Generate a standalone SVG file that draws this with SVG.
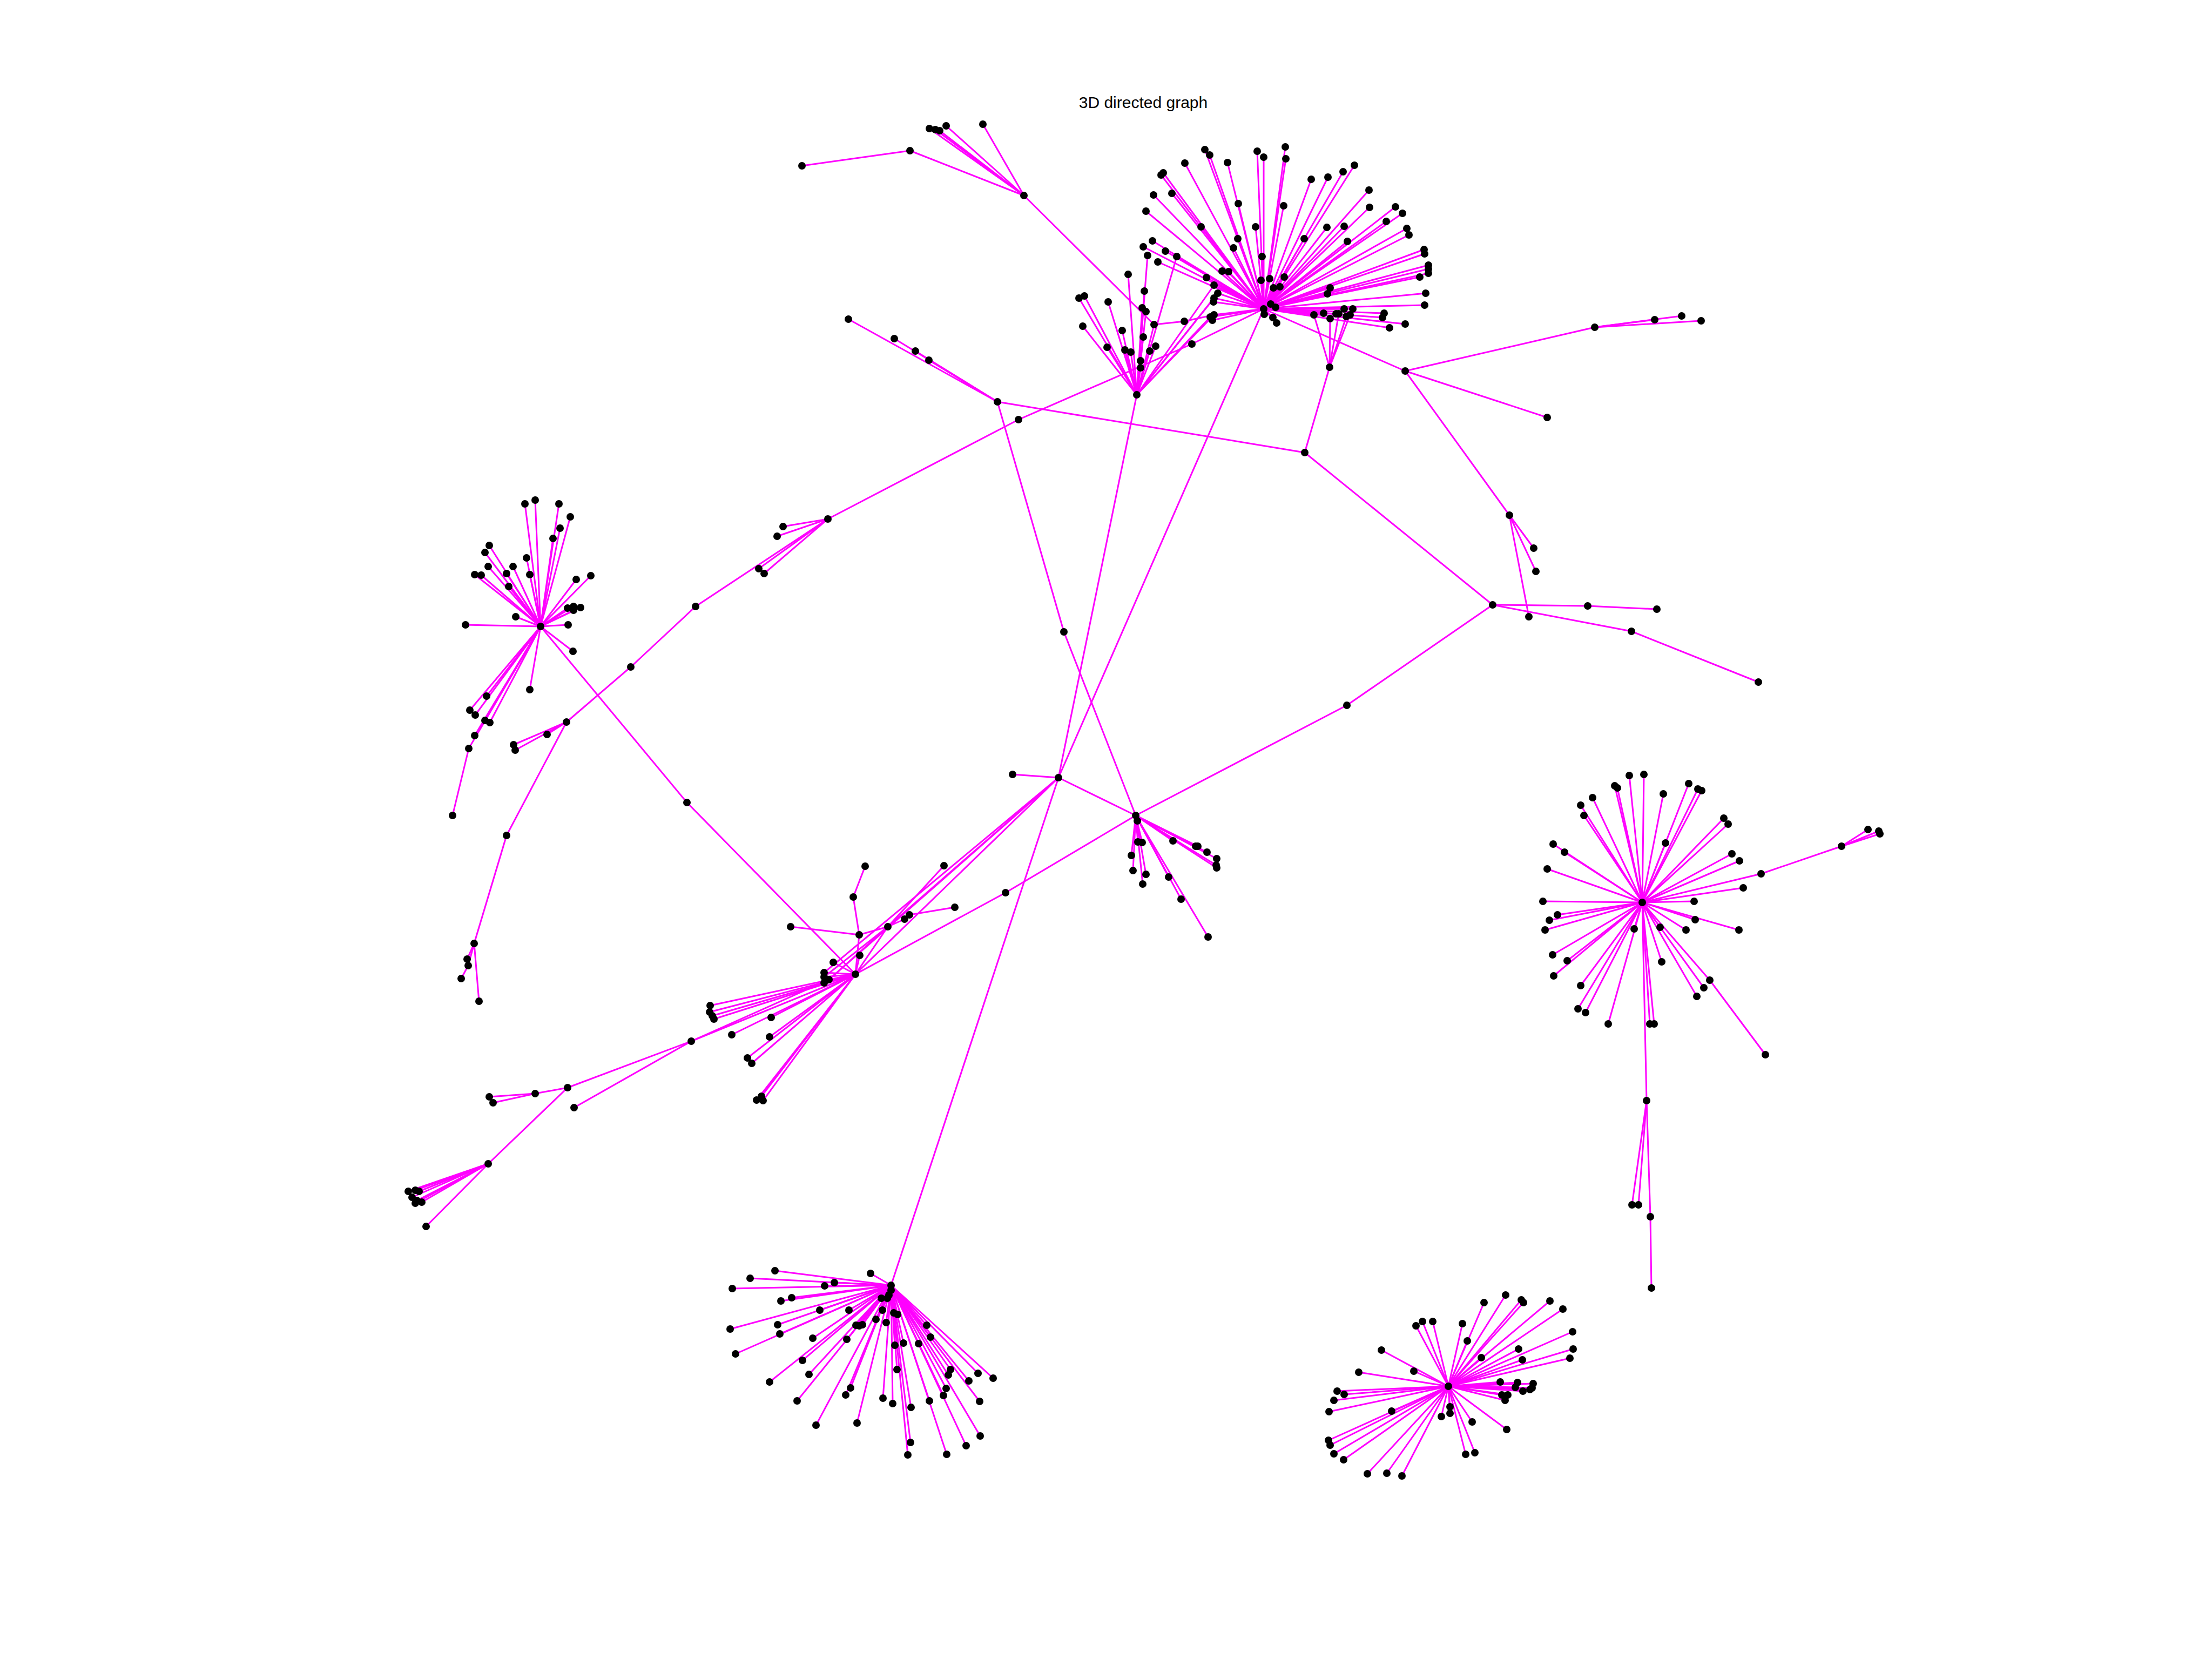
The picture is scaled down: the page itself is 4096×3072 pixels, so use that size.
<svg xmlns="http://www.w3.org/2000/svg" width="4096" height="3072" viewBox="0 0 4096 3072">
<style>
.e line{stroke:#ff00ff;stroke-width:3;stroke-linecap:round}
.n circle{fill:#000}
.t{font-family:"Liberation Sans",Arial,sans-serif;font-size:30px;fill:#000}
</style>
<rect width="4096" height="3072" fill="#fff"/>
<text class="t" x="2117" y="200" text-anchor="middle">3D directed graph</text>
<g id="edges" class="e">
<line x1="2340" y1="572" x2="2231" y2="277"/><line x1="2340" y1="572" x2="2240" y2="287"/><line x1="2340" y1="572" x2="2194" y2="302"/><line x1="2340" y1="572" x2="2273" y2="301"/><line x1="2340" y1="572" x2="2328" y2="280"/><line x1="2340" y1="572" x2="2340" y2="291"/><line x1="2340" y1="572" x2="2380" y2="272"/><line x1="2340" y1="572" x2="2381" y2="294"/><line x1="2340" y1="572" x2="2150" y2="324"/><line x1="2340" y1="572" x2="2154" y2="320"/>
<line x1="2340" y1="572" x2="2136" y2="361"/><line x1="2340" y1="572" x2="2170" y2="358"/><line x1="2340" y1="572" x2="2122" y2="391"/><line x1="2340" y1="572" x2="2224" y2="420"/><line x1="2340" y1="572" x2="2293" y2="377"/><line x1="2340" y1="572" x2="2377" y2="381"/><line x1="2340" y1="572" x2="2428" y2="332"/><line x1="2340" y1="572" x2="2459" y2="328"/><line x1="2340" y1="572" x2="2487" y2="318"/><line x1="2340" y1="572" x2="2508" y2="306"/>
<line x1="2340" y1="572" x2="2535" y2="352"/><line x1="2340" y1="572" x2="2536" y2="384"/><line x1="2340" y1="572" x2="2584" y2="383"/><line x1="2340" y1="572" x2="2597" y2="395"/><line x1="2340" y1="572" x2="2567" y2="410"/><line x1="2340" y1="572" x2="2605" y2="423"/><line x1="2340" y1="572" x2="2609" y2="435"/><line x1="2340" y1="572" x2="2457" y2="421"/><line x1="2340" y1="572" x2="2489" y2="419"/><line x1="2340" y1="572" x2="2415" y2="442"/>
<line x1="2340" y1="572" x2="2495" y2="447"/><line x1="2340" y1="572" x2="2325" y2="420"/><line x1="2340" y1="572" x2="2292" y2="442"/><line x1="2340" y1="572" x2="2284" y2="459"/><line x1="2340" y1="572" x2="2337" y2="475"/><line x1="2340" y1="572" x2="2637" y2="462"/><line x1="2340" y1="572" x2="2638" y2="470"/><line x1="2340" y1="572" x2="2645" y2="491"/><line x1="2340" y1="572" x2="2645" y2="498"/><line x1="2340" y1="572" x2="2645" y2="506"/>
<line x1="2340" y1="572" x2="2629" y2="513"/><line x1="2340" y1="572" x2="2640" y2="543"/><line x1="2340" y1="572" x2="2638" y2="565"/><line x1="2340" y1="572" x2="2463" y2="533"/><line x1="2340" y1="572" x2="2458" y2="544"/><line x1="2340" y1="572" x2="2335" y2="519"/><line x1="2340" y1="572" x2="2351" y2="516"/><line x1="2340" y1="572" x2="2378" y2="513"/><line x1="2340" y1="572" x2="2358" y2="533"/><line x1="2340" y1="572" x2="2370" y2="531"/>
<line x1="2340" y1="572" x2="2234" y2="514"/><line x1="2340" y1="572" x2="2263" y2="502"/><line x1="2340" y1="572" x2="2275" y2="503"/><line x1="2340" y1="572" x2="2248" y2="528"/><line x1="2340" y1="572" x2="2255" y2="543"/><line x1="2340" y1="572" x2="2248" y2="552"/><line x1="2340" y1="572" x2="2247" y2="559"/><line x1="2340" y1="572" x2="2241" y2="587"/><line x1="2340" y1="572" x2="2248" y2="583"/><line x1="2340" y1="572" x2="2245" y2="593"/>
<line x1="2340" y1="572" x2="2357" y2="588"/><line x1="2340" y1="572" x2="2364" y2="598"/><line x1="2340" y1="572" x2="2353" y2="563"/><line x1="2340" y1="572" x2="2362" y2="569"/><line x1="2340" y1="572" x2="2341" y2="582"/><line x1="2340" y1="572" x2="2433" y2="583"/><line x1="2340" y1="572" x2="2451" y2="580"/><line x1="2340" y1="572" x2="2474" y2="581"/><line x1="2340" y1="572" x2="2489" y2="572"/><line x1="2340" y1="572" x2="2505" y2="572"/>
<line x1="2340" y1="572" x2="2563" y2="580"/><line x1="2340" y1="572" x2="2560" y2="588"/><line x1="2340" y1="572" x2="2602" y2="600"/><line x1="2340" y1="572" x2="2573" y2="607"/><line x1="2340" y1="572" x2="2134" y2="446"/><line x1="2340" y1="572" x2="2117" y2="457"/><line x1="2340" y1="572" x2="2158" y2="465"/><line x1="2340" y1="572" x2="2179" y2="475"/><line x1="2340" y1="572" x2="2144" y2="485"/>
<line x1="2340" y1="572" x2="2602" y2="687"/><line x1="2340" y1="572" x2="2207" y2="637"/><line x1="2340" y1="572" x2="1960" y2="1440"/>
<line x1="2462" y1="680" x2="2433" y2="583"/><line x1="2462" y1="680" x2="2463" y2="590"/><line x1="2462" y1="680" x2="2479" y2="581"/><line x1="2462" y1="680" x2="2493" y2="586"/><line x1="2462" y1="680" x2="2500" y2="583"/><line x1="2462" y1="680" x2="2416" y2="838"/>
<line x1="2105" y1="731" x2="2005" y2="604"/><line x1="2105" y1="731" x2="2050" y2="643"/><line x1="2105" y1="731" x2="2078" y2="612"/><line x1="2105" y1="731" x2="2083" y2="648"/><line x1="2105" y1="731" x2="2094" y2="652"/><line x1="2105" y1="731" x2="2112" y2="668"/><line x1="2105" y1="731" x2="2112" y2="681"/><line x1="2105" y1="731" x2="2117" y2="624"/><line x1="2105" y1="731" x2="2129" y2="650"/><line x1="2105" y1="731" x2="2140" y2="641"/>
<line x1="2105" y1="731" x2="2115" y2="570"/><line x1="2105" y1="731" x2="2122" y2="577"/><line x1="2105" y1="731" x2="2052" y2="559"/><line x1="2105" y1="731" x2="1998" y2="552"/><line x1="2105" y1="731" x2="2008" y2="548"/><line x1="2105" y1="731" x2="2089" y2="508"/><line x1="2105" y1="731" x2="2119" y2="539"/><line x1="2105" y1="731" x2="2125" y2="473"/><line x1="2105" y1="731" x2="2179" y2="475"/><line x1="2105" y1="731" x2="2241" y2="587"/>
<line x1="2105" y1="731" x2="2248" y2="583"/><line x1="2105" y1="731" x2="2248" y2="528"/><line x1="2105" y1="731" x2="2255" y2="543"/><line x1="2105" y1="731" x2="2248" y2="552"/><line x1="2105" y1="731" x2="2137" y2="601"/><line x1="2105" y1="731" x2="1960" y2="1440"/>
<line x1="1896" y1="362" x2="1685" y2="279"/><line x1="1685" y1="279" x2="1485" y2="307"/><line x1="1896" y1="362" x2="1721" y2="238"/><line x1="1896" y1="362" x2="1732" y2="240"/><line x1="1896" y1="362" x2="1740" y2="242"/><line x1="1896" y1="362" x2="1752" y2="233"/><line x1="1896" y1="362" x2="1820" y2="230"/><line x1="1896" y1="362" x2="2137" y2="601"/><line x1="2137" y1="601" x2="2193" y2="595"/><line x1="2193" y1="595" x2="2248" y2="583"/>
<line x1="1847" y1="744" x2="1571" y2="591"/><line x1="1847" y1="744" x2="1656" y2="627"/><line x1="1847" y1="744" x2="1695" y2="650"/><line x1="1847" y1="744" x2="1720" y2="667"/><line x1="1847" y1="744" x2="2416" y2="838"/><line x1="1847" y1="744" x2="1970" y2="1170"/><line x1="1970" y1="1170" x2="2103" y2="1510"/>
<line x1="2207" y1="637" x2="1886" y2="777"/><line x1="1886" y1="777" x2="1533" y2="961"/>
<line x1="2416" y1="838" x2="2764" y2="1120"/>
<line x1="2602" y1="687" x2="2953" y2="606"/><line x1="2953" y1="606" x2="3064" y2="592"/><line x1="2953" y1="606" x2="3114" y2="585"/><line x1="2953" y1="606" x2="3150" y2="594"/><line x1="2602" y1="687" x2="2865" y2="773"/><line x1="2602" y1="687" x2="2795" y2="954"/>
<line x1="2795" y1="954" x2="2840" y2="1015"/><line x1="2795" y1="954" x2="2844" y2="1058"/><line x1="2795" y1="954" x2="2831" y2="1142"/>
<line x1="2764" y1="1120" x2="2940" y2="1122"/><line x1="2940" y1="1122" x2="3068" y2="1128"/><line x1="2764" y1="1120" x2="3021" y2="1169"/><line x1="3021" y1="1169" x2="3256" y2="1263"/><line x1="2764" y1="1120" x2="2494" y2="1306"/><line x1="2494" y1="1306" x2="2103" y2="1510"/><line x1="2103" y1="1510" x2="1862" y2="1653"/><line x1="1862" y1="1653" x2="1584" y2="1804"/>
<line x1="2103" y1="1510" x2="2106" y2="1520"/><line x1="2103" y1="1510" x2="2107" y2="1559"/><line x1="2103" y1="1510" x2="2115" y2="1560"/><line x1="2103" y1="1510" x2="2095" y2="1584"/><line x1="2103" y1="1510" x2="2098" y2="1612"/><line x1="2103" y1="1510" x2="2122" y2="1619"/><line x1="2103" y1="1510" x2="2116" y2="1637"/><line x1="2103" y1="1510" x2="2172" y2="1557"/><line x1="2103" y1="1510" x2="2214" y2="1567"/><line x1="2103" y1="1510" x2="2218" y2="1567"/>
<line x1="2103" y1="1510" x2="2235" y2="1578"/><line x1="2103" y1="1510" x2="2253" y2="1590"/><line x1="2103" y1="1510" x2="2252" y2="1602"/><line x1="2103" y1="1510" x2="2253" y2="1607"/><line x1="2103" y1="1510" x2="2164" y2="1624"/><line x1="2103" y1="1510" x2="2187" y2="1665"/><line x1="2103" y1="1510" x2="2237" y2="1735"/>
<line x1="1960" y1="1440" x2="2103" y2="1510"/><line x1="1960" y1="1440" x2="1875" y2="1434"/><line x1="1960" y1="1440" x2="1650" y2="2380"/><line x1="1960" y1="1440" x2="1584" y2="1804"/><line x1="1960" y1="1440" x2="1644" y2="1716"/><line x1="1960" y1="1440" x2="1526" y2="1801"/><line x1="1960" y1="1440" x2="1535" y2="1814"/>
<line x1="1584" y1="1804" x2="1592" y2="1769"/><line x1="1584" y1="1804" x2="1543" y2="1782"/><line x1="1584" y1="1804" x2="1526" y2="1801"/><line x1="1584" y1="1804" x2="1526" y2="1809"/><line x1="1584" y1="1804" x2="1535" y2="1814"/><line x1="1584" y1="1804" x2="1526" y2="1820"/><line x1="1584" y1="1804" x2="1315" y2="1862"/><line x1="1584" y1="1804" x2="1314" y2="1874"/><line x1="1584" y1="1804" x2="1319" y2="1881"/><line x1="1584" y1="1804" x2="1322" y2="1887"/>
<line x1="1584" y1="1804" x2="1428" y2="1884"/><line x1="1584" y1="1804" x2="1355" y2="1916"/><line x1="1584" y1="1804" x2="1425" y2="1920"/><line x1="1584" y1="1804" x2="1384" y2="1959"/><line x1="1584" y1="1804" x2="1392" y2="1969"/><line x1="1584" y1="1804" x2="1401" y2="2037"/><line x1="1584" y1="1804" x2="1410" y2="2030"/><line x1="1584" y1="1804" x2="1413" y2="2038"/><line x1="1584" y1="1804" x2="1280" y2="1928"/><line x1="1535" y1="1814" x2="1280" y2="1928"/>
<line x1="1644" y1="1716" x2="1584" y2="1804"/><line x1="1644" y1="1716" x2="1526" y2="1809"/><line x1="1644" y1="1716" x2="1535" y2="1814"/><line x1="1591" y1="1731" x2="1584" y2="1804"/><line x1="1580" y1="1661" x2="1591" y2="1731"/><line x1="1602" y1="1604" x2="1580" y2="1661"/><line x1="1464" y1="1716" x2="1591" y2="1731"/><line x1="1591" y1="1731" x2="1644" y2="1716"/><line x1="1644" y1="1716" x2="1675" y2="1702"/><line x1="1675" y1="1702" x2="1684" y2="1694"/>
<line x1="1684" y1="1694" x2="1768" y2="1680"/><line x1="1644" y1="1716" x2="1748" y2="1603"/>
<line x1="1001" y1="1160" x2="1272" y2="1486"/><line x1="1272" y1="1486" x2="1584" y2="1804"/>
<line x1="1280" y1="1928" x2="1051" y2="2014"/><line x1="1051" y1="2014" x2="991" y2="2025"/><line x1="991" y1="2025" x2="906" y2="2031"/><line x1="991" y1="2025" x2="913" y2="2042"/><line x1="1280" y1="1928" x2="1063" y2="2051"/><line x1="1051" y1="2014" x2="904" y2="2155"/>
<line x1="904" y1="2155" x2="756" y2="2206"/><line x1="904" y1="2155" x2="769" y2="2204"/><line x1="904" y1="2155" x2="776" y2="2206"/><line x1="904" y1="2155" x2="763" y2="2217"/><line x1="904" y1="2155" x2="769" y2="2228"/><line x1="904" y1="2155" x2="781" y2="2226"/><line x1="904" y1="2155" x2="772" y2="2223"/><line x1="904" y1="2155" x2="789" y2="2271"/>
<line x1="1001" y1="1160" x2="972" y2="933"/><line x1="1001" y1="1160" x2="991" y2="926"/><line x1="1001" y1="1160" x2="1035" y2="933"/><line x1="1001" y1="1160" x2="1056" y2="957"/><line x1="1001" y1="1160" x2="1037" y2="978"/><line x1="1001" y1="1160" x2="1024" y2="997"/><line x1="1001" y1="1160" x2="906" y2="1010"/><line x1="1001" y1="1160" x2="898" y2="1023"/><line x1="1001" y1="1160" x2="904" y2="1049"/><line x1="1001" y1="1160" x2="879" y2="1064"/>
<line x1="1001" y1="1160" x2="891" y2="1065"/><line x1="1001" y1="1160" x2="938" y2="1062"/><line x1="1001" y1="1160" x2="950" y2="1049"/><line x1="1001" y1="1160" x2="942" y2="1086"/><line x1="1001" y1="1160" x2="975" y2="1033"/><line x1="1001" y1="1160" x2="981" y2="1064"/><line x1="1001" y1="1160" x2="1067" y2="1073"/><line x1="1001" y1="1160" x2="1094" y2="1066"/><line x1="1001" y1="1160" x2="1051" y2="1126"/><line x1="1001" y1="1160" x2="1062" y2="1123"/>
<line x1="1001" y1="1160" x2="1075" y2="1125"/><line x1="1001" y1="1160" x2="1062" y2="1130"/><line x1="1001" y1="1160" x2="955" y2="1142"/><line x1="1001" y1="1160" x2="862" y2="1157"/><line x1="1001" y1="1160" x2="1052" y2="1157"/><line x1="1001" y1="1160" x2="1061" y2="1206"/><line x1="1001" y1="1160" x2="981" y2="1277"/><line x1="1001" y1="1160" x2="870" y2="1315"/><line x1="1001" y1="1160" x2="880" y2="1324"/><line x1="1001" y1="1160" x2="901" y2="1289"/>
<line x1="1001" y1="1160" x2="898" y2="1334"/><line x1="1001" y1="1160" x2="907" y2="1338"/><line x1="1001" y1="1160" x2="879" y2="1362"/><line x1="1001" y1="1160" x2="868" y2="1386"/><line x1="868" y1="1386" x2="838" y2="1510"/>
<line x1="1533" y1="961" x2="1439" y2="993"/><line x1="1533" y1="961" x2="1450" y2="975"/><line x1="1533" y1="961" x2="1405" y2="1053"/><line x1="1533" y1="961" x2="1415" y2="1062"/><line x1="1533" y1="961" x2="1288" y2="1123"/><line x1="1288" y1="1123" x2="1168" y2="1235"/><line x1="1168" y1="1235" x2="1049" y2="1337"/>
<line x1="1049" y1="1337" x2="1013" y2="1360"/><line x1="1049" y1="1337" x2="951" y2="1379"/><line x1="1049" y1="1337" x2="954" y2="1389"/><line x1="1049" y1="1337" x2="938" y2="1547"/><line x1="938" y1="1547" x2="878" y2="1747"/><line x1="878" y1="1747" x2="865" y2="1776"/><line x1="878" y1="1747" x2="867" y2="1788"/><line x1="867" y1="1788" x2="854" y2="1812"/><line x1="878" y1="1747" x2="887" y2="1854"/>
<line x1="1650" y1="2380" x2="1650" y2="2389"/><line x1="1650" y1="2380" x2="1646" y2="2398"/><line x1="1650" y1="2380" x2="1643" y2="2404"/><line x1="1650" y1="2380" x2="1632" y2="2404"/><line x1="1650" y1="2380" x2="1612" y2="2358"/><line x1="1650" y1="2380" x2="1435" y2="2353"/><line x1="1650" y1="2380" x2="1389" y2="2367"/><line x1="1650" y1="2380" x2="1356" y2="2386"/><line x1="1650" y1="2380" x2="1527" y2="2381"/><line x1="1650" y1="2380" x2="1545" y2="2375"/>
<line x1="1650" y1="2380" x2="1446" y2="2409"/><line x1="1650" y1="2380" x2="1466" y2="2403"/><line x1="1650" y1="2380" x2="1518" y2="2426"/><line x1="1650" y1="2380" x2="1572" y2="2426"/><line x1="1650" y1="2380" x2="1352" y2="2461"/><line x1="1650" y1="2380" x2="1440" y2="2453"/><line x1="1650" y1="2380" x2="1444" y2="2470"/><line x1="1650" y1="2380" x2="1362" y2="2507"/><line x1="1650" y1="2380" x2="1505" y2="2478"/><line x1="1650" y1="2380" x2="1568" y2="2480"/>
<line x1="1650" y1="2380" x2="1486" y2="2519"/><line x1="1650" y1="2380" x2="1498" y2="2545"/><line x1="1650" y1="2380" x2="1425" y2="2559"/><line x1="1650" y1="2380" x2="1476" y2="2594"/><line x1="1650" y1="2380" x2="1511" y2="2639"/><line x1="1650" y1="2380" x2="1575" y2="2570"/><line x1="1650" y1="2380" x2="1566" y2="2583"/><line x1="1650" y1="2380" x2="1587" y2="2635"/><line x1="1650" y1="2380" x2="1585" y2="2454"/><line x1="1650" y1="2380" x2="1591" y2="2455"/>
<line x1="1650" y1="2380" x2="1597" y2="2453"/><line x1="1650" y1="2380" x2="1622" y2="2443"/><line x1="1650" y1="2380" x2="1634" y2="2426"/><line x1="1650" y1="2380" x2="1641" y2="2449"/><line x1="1650" y1="2380" x2="1655" y2="2431"/><line x1="1650" y1="2380" x2="1662" y2="2434"/><line x1="1650" y1="2380" x2="1657" y2="2491"/><line x1="1650" y1="2380" x2="1673" y2="2487"/><line x1="1650" y1="2380" x2="1661" y2="2536"/><line x1="1650" y1="2380" x2="1635" y2="2589"/>
<line x1="1650" y1="2380" x2="1653" y2="2599"/><line x1="1650" y1="2380" x2="1687" y2="2606"/><line x1="1650" y1="2380" x2="1686" y2="2671"/><line x1="1650" y1="2380" x2="1681" y2="2694"/><line x1="1650" y1="2380" x2="1701" y2="2488"/><line x1="1650" y1="2380" x2="1716" y2="2454"/><line x1="1650" y1="2380" x2="1723" y2="2476"/><line x1="1650" y1="2380" x2="1721" y2="2594"/><line x1="1650" y1="2380" x2="1752" y2="2571"/><line x1="1650" y1="2380" x2="1747" y2="2584"/>
<line x1="1650" y1="2380" x2="1760" y2="2536"/><line x1="1650" y1="2380" x2="1756" y2="2546"/><line x1="1650" y1="2380" x2="1753" y2="2693"/><line x1="1650" y1="2380" x2="1789" y2="2677"/><line x1="1650" y1="2380" x2="1815" y2="2659"/><line x1="1650" y1="2380" x2="1814" y2="2595"/><line x1="1650" y1="2380" x2="1794" y2="2557"/><line x1="1650" y1="2380" x2="1811" y2="2543"/><line x1="1650" y1="2380" x2="1839" y2="2552"/>
<line x1="2682" y1="2567" x2="2788" y2="2398"/><line x1="2682" y1="2567" x2="2748" y2="2412"/><line x1="2682" y1="2567" x2="2817" y2="2407"/><line x1="2682" y1="2567" x2="2821" y2="2412"/><line x1="2682" y1="2567" x2="2870" y2="2409"/><line x1="2682" y1="2567" x2="2894" y2="2424"/><line x1="2682" y1="2567" x2="2912" y2="2466"/><line x1="2682" y1="2567" x2="2913" y2="2498"/><line x1="2682" y1="2567" x2="2907" y2="2515"/><line x1="2682" y1="2567" x2="2812" y2="2498"/>
<line x1="2682" y1="2567" x2="2819" y2="2518"/><line x1="2682" y1="2567" x2="2743" y2="2514"/><line x1="2682" y1="2567" x2="2717" y2="2483"/><line x1="2682" y1="2567" x2="2708" y2="2451"/><line x1="2682" y1="2567" x2="2653" y2="2447"/><line x1="2682" y1="2567" x2="2634" y2="2447"/><line x1="2682" y1="2567" x2="2622" y2="2455"/><line x1="2682" y1="2567" x2="2558" y2="2500"/><line x1="2682" y1="2567" x2="2618" y2="2539"/><line x1="2682" y1="2567" x2="2516" y2="2541"/>
<line x1="2682" y1="2567" x2="2476" y2="2576"/><line x1="2682" y1="2567" x2="2489" y2="2582"/><line x1="2682" y1="2567" x2="2470" y2="2593"/><line x1="2682" y1="2567" x2="2461" y2="2614"/><line x1="2682" y1="2567" x2="2577" y2="2613"/><line x1="2682" y1="2567" x2="2460" y2="2667"/><line x1="2682" y1="2567" x2="2463" y2="2676"/><line x1="2682" y1="2567" x2="2470" y2="2692"/><line x1="2682" y1="2567" x2="2488" y2="2703"/><line x1="2682" y1="2567" x2="2532" y2="2729"/>
<line x1="2682" y1="2567" x2="2568" y2="2728"/><line x1="2682" y1="2567" x2="2596" y2="2733"/><line x1="2682" y1="2567" x2="2669" y2="2623"/><line x1="2682" y1="2567" x2="2685" y2="2605"/><line x1="2682" y1="2567" x2="2685" y2="2617"/><line x1="2682" y1="2567" x2="2714" y2="2693"/><line x1="2682" y1="2567" x2="2731" y2="2690"/><line x1="2682" y1="2567" x2="2726" y2="2633"/><line x1="2682" y1="2567" x2="2790" y2="2647"/><line x1="2682" y1="2567" x2="2778" y2="2559"/>
<line x1="2682" y1="2567" x2="2810" y2="2560"/><line x1="2682" y1="2567" x2="2806" y2="2569"/><line x1="2682" y1="2567" x2="2839" y2="2562"/><line x1="2682" y1="2567" x2="2837" y2="2570"/><line x1="2682" y1="2567" x2="2833" y2="2573"/><line x1="2682" y1="2567" x2="2820" y2="2576"/><line x1="2682" y1="2567" x2="2781" y2="2583"/><line x1="2682" y1="2567" x2="2792" y2="2583"/><line x1="2682" y1="2567" x2="2787" y2="2593"/>
<line x1="3041" y1="1671" x2="3044" y2="1434"/><line x1="3041" y1="1671" x2="3017" y2="1436"/><line x1="3041" y1="1671" x2="2990" y2="1455"/><line x1="3041" y1="1671" x2="2995" y2="1459"/><line x1="3041" y1="1671" x2="2949" y2="1477"/><line x1="3041" y1="1671" x2="2927" y2="1491"/><line x1="3041" y1="1671" x2="2933" y2="1510"/><line x1="3041" y1="1671" x2="3080" y2="1470"/><line x1="3041" y1="1671" x2="3127" y2="1451"/><line x1="3041" y1="1671" x2="3144" y2="1461"/>
<line x1="3041" y1="1671" x2="3151" y2="1464"/><line x1="3041" y1="1671" x2="3084" y2="1561"/><line x1="3041" y1="1671" x2="3192" y2="1515"/><line x1="3041" y1="1671" x2="3200" y2="1526"/><line x1="3041" y1="1671" x2="3207" y2="1581"/><line x1="3041" y1="1671" x2="3221" y2="1594"/><line x1="3041" y1="1671" x2="3228" y2="1644"/><line x1="3041" y1="1671" x2="3137" y2="1669"/><line x1="3041" y1="1671" x2="3139" y2="1703"/><line x1="3041" y1="1671" x2="3220" y2="1722"/>
<line x1="3041" y1="1671" x2="3122" y2="1722"/><line x1="3041" y1="1671" x2="3074" y2="1717"/><line x1="3041" y1="1671" x2="3077" y2="1781"/><line x1="3041" y1="1671" x2="3155" y2="1829"/><line x1="3041" y1="1671" x2="3142" y2="1845"/><line x1="3041" y1="1671" x2="3055" y2="1896"/><line x1="3041" y1="1671" x2="3063" y2="1896"/><line x1="3041" y1="1671" x2="2978" y2="1896"/><line x1="3041" y1="1671" x2="2936" y2="1875"/><line x1="3041" y1="1671" x2="2922" y2="1868"/>
<line x1="3041" y1="1671" x2="2927" y2="1825"/><line x1="3041" y1="1671" x2="2877" y2="1807"/><line x1="3041" y1="1671" x2="2902" y2="1779"/><line x1="3041" y1="1671" x2="2875" y2="1768"/><line x1="3041" y1="1671" x2="3026" y2="1720"/><line x1="3041" y1="1671" x2="2861" y2="1722"/><line x1="3041" y1="1671" x2="2869" y2="1704"/><line x1="3041" y1="1671" x2="2884" y2="1694"/><line x1="3041" y1="1671" x2="2857" y2="1669"/><line x1="3041" y1="1671" x2="2865" y2="1609"/>
<line x1="3041" y1="1671" x2="2876" y2="1563"/><line x1="3041" y1="1671" x2="2897" y2="1578"/>
<line x1="3041" y1="1671" x2="3261" y2="1618"/><line x1="3261" y1="1618" x2="3410" y2="1567"/><line x1="3410" y1="1567" x2="3459" y2="1536"/><line x1="3410" y1="1567" x2="3479" y2="1539"/><line x1="3410" y1="1567" x2="3481" y2="1544"/>
<line x1="3041" y1="1671" x2="3166" y2="1815"/><line x1="3166" y1="1815" x2="3269" y2="1953"/>
<line x1="3041" y1="1671" x2="3049" y2="2038"/><line x1="3049" y1="2038" x2="3022" y2="2231"/><line x1="3049" y1="2038" x2="3034" y2="2231"/><line x1="3049" y1="2038" x2="3056" y2="2253"/><line x1="3056" y1="2253" x2="3058" y2="2385"/>
</g>
<g id="nodes" class="n">
<g id="hub_top"><circle cx="2340" cy="572" r="7"/></g>
<g id="hub_s1"><circle cx="2462" cy="680" r="7"/></g>
<g id="hub_s2"><circle cx="2105" cy="731" r="7"/></g>
<g id="j1"><circle cx="2602" cy="687" r="7"/></g>
<g id="j2"><circle cx="1847" cy="744" r="7"/></g>
<g id="j3"><circle cx="2764" cy="1120" r="7"/></g>
<g id="n925"><circle cx="2416" cy="838" r="7"/></g>
<g id="n1070"><circle cx="2795" cy="954" r="7"/></g>
<g id="n955"><circle cx="2494" cy="1306" r="7"/></g>
<g id="hub_mid"><circle cx="2103" cy="1510" r="7"/></g>
<g id="n748"><circle cx="1960" cy="1440" r="7"/></g>
<g id="n718"><circle cx="1875" cy="1434" r="7"/></g>
<g id="n754"><circle cx="1970" cy="1170" r="7"/></g>
<g id="n713"><circle cx="1862" cy="1653" r="7"/></g>
<g id="hub_ml"><circle cx="1584" cy="1804" r="7"/></g>
<g id="hub_bl"><circle cx="1650" cy="2380" r="7"/></g>
<g id="hub_br"><circle cx="2682" cy="2567" r="7"/></g>
<g id="hub_r"><circle cx="3041" cy="1671" r="7"/></g>
<g id="hub_l"><circle cx="1001" cy="1160" r="7"/></g>
<g id="n486"><circle cx="1272" cy="1486" r="7"/></g>
<g id="n1533"><circle cx="1533" cy="961" r="7"/></g>
<g id="n1288"><circle cx="1288" cy="1123" r="7"/></g>
<g id="n1168"><circle cx="1168" cy="1235" r="7"/></g>
<g id="n1049"><circle cx="1049" cy="1337" r="7"/></g>
<g id="n358"><circle cx="938" cy="1547" r="7"/></g>
<g id="n336"><circle cx="878" cy="1747" r="7"/></g>
<g id="n1886"><circle cx="1886" cy="777" r="7"/></g>
<g id="n2207"><circle cx="2207" cy="637" r="7"/></g>
<g id="n2137"><circle cx="2137" cy="601" r="7"/></g>
<g id="n2193"><circle cx="2193" cy="595" r="7"/></g>
<g id="t1"><circle cx="1896" cy="362" r="7"/></g>
<g id="t2"><circle cx="1685" cy="279" r="7"/></g>
<g id="t3"><circle cx="1485" cy="307" r="7"/></g>
<g id="n2953"><circle cx="2953" cy="606" r="7"/></g>
<g id="r1"><circle cx="3261" cy="1618" r="7"/></g>
<g id="r2"><circle cx="3410" cy="1567" r="7"/></g>
<g id="r3"><circle cx="3049" cy="2038" r="7"/></g>
<g id="r4"><circle cx="3056" cy="2253" r="7"/></g>
<g id="r5"><circle cx="3058" cy="2385" r="7"/></g>
<g id="r6"><circle cx="3166" cy="1815" r="7"/></g>
<g id="r7"><circle cx="3269" cy="1953" r="7"/></g>
<g id="n845"><circle cx="1280" cy="1928" r="7"/></g>
<g id="n493"><circle cx="1051" cy="2014" r="7"/></g>
<g id="n401"><circle cx="991" cy="2025" r="7"/></g>
<g id="n512"><circle cx="1063" cy="2051" r="7"/></g>
<g id="n267"><circle cx="904" cy="2155" r="7"/></g>
<g id="n2940"><circle cx="2940" cy="1122" r="7"/></g>
<g id="n3068"><circle cx="3068" cy="1128" r="7"/></g>
<g id="n3021"><circle cx="3021" cy="1169" r="7"/></g>
<g id="n3256"><circle cx="3256" cy="1263" r="7"/></g>
<g id="n868"><circle cx="868" cy="1386" r="7"/></g>
<g id="n838"><circle cx="838" cy="1510" r="7"/></g>
<g id="n1591"><circle cx="1591" cy="1731" r="7"/></g>
<g id="n1580"><circle cx="1580" cy="1661" r="7"/></g>
<g id="n1602"><circle cx="1602" cy="1604" r="7"/></g>
<g id="n1464"><circle cx="1464" cy="1716" r="7"/></g>
<g id="n1644"><circle cx="1644" cy="1716" r="7"/></g>
<g id="n1675"><circle cx="1675" cy="1702" r="7"/></g>
<g id="n1684"><circle cx="1684" cy="1694" r="7"/></g>
<g id="n1768"><circle cx="1768" cy="1680" r="7"/></g>
<g id="n1748"><circle cx="1748" cy="1603" r="7"/></g>
<g id="a01"><circle cx="2231" cy="277" r="7"/></g><g id="a02"><circle cx="2240" cy="287" r="7"/></g><g id="a03"><circle cx="2194" cy="302" r="7"/></g><g id="a04"><circle cx="2273" cy="301" r="7"/></g><g id="a05"><circle cx="2328" cy="280" r="7"/></g><g id="a06"><circle cx="2340" cy="291" r="7"/></g><g id="a07"><circle cx="2380" cy="272" r="7"/></g><g id="a08"><circle cx="2381" cy="294" r="7"/></g><g id="a09"><circle cx="2150" cy="324" r="7"/></g><g id="a10"><circle cx="2154" cy="320" r="7"/></g>
<g id="a11"><circle cx="2136" cy="361" r="7"/></g><g id="a12"><circle cx="2170" cy="358" r="7"/></g><g id="a13"><circle cx="2122" cy="391" r="7"/></g><g id="a14"><circle cx="2224" cy="420" r="7"/></g><g id="a15"><circle cx="2293" cy="377" r="7"/></g><g id="a16"><circle cx="2377" cy="381" r="7"/></g><g id="a17"><circle cx="2428" cy="332" r="7"/></g><g id="a18"><circle cx="2459" cy="328" r="7"/></g><g id="a19"><circle cx="2487" cy="318" r="7"/></g><g id="a20"><circle cx="2508" cy="306" r="7"/></g>
<g id="a21"><circle cx="2535" cy="352" r="7"/></g><g id="a22"><circle cx="2536" cy="384" r="7"/></g><g id="a23"><circle cx="2584" cy="383" r="7"/></g><g id="a24"><circle cx="2597" cy="395" r="7"/></g><g id="a25"><circle cx="2567" cy="410" r="7"/></g><g id="a26"><circle cx="2605" cy="423" r="7"/></g><g id="a27"><circle cx="2609" cy="435" r="7"/></g><g id="a28"><circle cx="2457" cy="421" r="7"/></g><g id="a29"><circle cx="2489" cy="419" r="7"/></g><g id="a30"><circle cx="2415" cy="442" r="7"/></g>
<g id="a31"><circle cx="2495" cy="447" r="7"/></g><g id="a32"><circle cx="2325" cy="420" r="7"/></g><g id="a33"><circle cx="2292" cy="442" r="7"/></g><g id="a34"><circle cx="2284" cy="459" r="7"/></g><g id="a35"><circle cx="2337" cy="475" r="7"/></g><g id="a36"><circle cx="2637" cy="462" r="7"/></g><g id="a37"><circle cx="2638" cy="470" r="7"/></g><g id="a38"><circle cx="2645" cy="491" r="7"/></g><g id="a39"><circle cx="2645" cy="498" r="7"/></g><g id="a40"><circle cx="2645" cy="506" r="7"/></g>
<g id="a41"><circle cx="2629" cy="513" r="7"/></g><g id="a42"><circle cx="2640" cy="543" r="7"/></g><g id="a43"><circle cx="2638" cy="565" r="7"/></g><g id="a44"><circle cx="2463" cy="533" r="7"/></g><g id="a45"><circle cx="2458" cy="544" r="7"/></g><g id="a46"><circle cx="2335" cy="519" r="7"/></g><g id="a47"><circle cx="2351" cy="516" r="7"/></g><g id="a48"><circle cx="2378" cy="513" r="7"/></g><g id="a49"><circle cx="2358" cy="533" r="7"/></g><g id="a50"><circle cx="2370" cy="531" r="7"/></g>
<g id="a51"><circle cx="2234" cy="514" r="7"/></g><g id="a52"><circle cx="2263" cy="502" r="7"/></g><g id="a53"><circle cx="2275" cy="503" r="7"/></g><g id="a54"><circle cx="2248" cy="528" r="7"/></g><g id="a55"><circle cx="2255" cy="543" r="7"/></g><g id="a56"><circle cx="2248" cy="552" r="7"/></g><g id="a57"><circle cx="2247" cy="559" r="7"/></g><g id="a58"><circle cx="2241" cy="587" r="7"/></g><g id="a59"><circle cx="2248" cy="583" r="7"/></g><g id="a60"><circle cx="2245" cy="593" r="7"/></g>
<g id="a61"><circle cx="2357" cy="588" r="7"/></g><g id="a62"><circle cx="2364" cy="598" r="7"/></g><g id="a63"><circle cx="2353" cy="563" r="7"/></g><g id="a64"><circle cx="2362" cy="569" r="7"/></g><g id="a65"><circle cx="2341" cy="582" r="7"/></g><g id="a66"><circle cx="2433" cy="583" r="7"/></g><g id="a67"><circle cx="2451" cy="580" r="7"/></g><g id="a68"><circle cx="2474" cy="581" r="7"/></g><g id="a69"><circle cx="2489" cy="572" r="7"/></g><g id="a70"><circle cx="2505" cy="572" r="7"/></g>
<g id="a71"><circle cx="2563" cy="580" r="7"/></g><g id="a72"><circle cx="2560" cy="588" r="7"/></g><g id="a73"><circle cx="2602" cy="600" r="7"/></g><g id="a74"><circle cx="2573" cy="607" r="7"/></g><g id="a75"><circle cx="2134" cy="446" r="7"/></g><g id="a76"><circle cx="2117" cy="457" r="7"/></g><g id="a77"><circle cx="2158" cy="465" r="7"/></g><g id="a78"><circle cx="2179" cy="475" r="7"/></g><g id="a79"><circle cx="2144" cy="485" r="7"/></g><g id="a80"><circle cx="2463" cy="590" r="7"/></g>
<g id="a81"><circle cx="2479" cy="581" r="7"/></g><g id="a82"><circle cx="2493" cy="586" r="7"/></g><g id="a83"><circle cx="2500" cy="583" r="7"/></g>
<g id="b01"><circle cx="2005" cy="604" r="7"/></g><g id="b02"><circle cx="2050" cy="643" r="7"/></g><g id="b03"><circle cx="2078" cy="612" r="7"/></g><g id="b04"><circle cx="2083" cy="648" r="7"/></g><g id="b05"><circle cx="2094" cy="652" r="7"/></g><g id="b06"><circle cx="2112" cy="668" r="7"/></g><g id="b07"><circle cx="2112" cy="681" r="7"/></g><g id="b08"><circle cx="2117" cy="624" r="7"/></g><g id="b09"><circle cx="2129" cy="650" r="7"/></g><g id="b10"><circle cx="2140" cy="641" r="7"/></g>
<g id="b11"><circle cx="2115" cy="570" r="7"/></g><g id="b12"><circle cx="2122" cy="577" r="7"/></g><g id="b13"><circle cx="2052" cy="559" r="7"/></g><g id="b14"><circle cx="1998" cy="552" r="7"/></g><g id="b15"><circle cx="2008" cy="548" r="7"/></g><g id="b16"><circle cx="2089" cy="508" r="7"/></g><g id="b17"><circle cx="2119" cy="539" r="7"/></g><g id="b18"><circle cx="2125" cy="473" r="7"/></g>
<g id="t4"><circle cx="1721" cy="238" r="7"/></g><g id="t5"><circle cx="1732" cy="240" r="7"/></g><g id="t6"><circle cx="1740" cy="242" r="7"/></g><g id="t7"><circle cx="1752" cy="233" r="7"/></g><g id="t8"><circle cx="1820" cy="230" r="7"/></g>
<g id="d1"><circle cx="1571" cy="591" r="7"/></g><g id="d2"><circle cx="1656" cy="627" r="7"/></g><g id="d3"><circle cx="1695" cy="650" r="7"/></g><g id="d4"><circle cx="1720" cy="667" r="7"/></g>
<g id="e1"><circle cx="3064" cy="592" r="7"/></g><g id="e2"><circle cx="3114" cy="585" r="7"/></g><g id="e3"><circle cx="3150" cy="594" r="7"/></g><g id="e4"><circle cx="2865" cy="773" r="7"/></g><g id="e5"><circle cx="2840" cy="1015" r="7"/></g><g id="e6"><circle cx="2844" cy="1058" r="7"/></g><g id="e7"><circle cx="2831" cy="1142" r="7"/></g>
<g id="f01"><circle cx="2106" cy="1520" r="7"/></g><g id="f02"><circle cx="2107" cy="1559" r="7"/></g><g id="f03"><circle cx="2115" cy="1560" r="7"/></g><g id="f04"><circle cx="2095" cy="1584" r="7"/></g><g id="f05"><circle cx="2098" cy="1612" r="7"/></g><g id="f06"><circle cx="2122" cy="1619" r="7"/></g><g id="f07"><circle cx="2116" cy="1637" r="7"/></g><g id="f08"><circle cx="2172" cy="1557" r="7"/></g><g id="f09"><circle cx="2214" cy="1567" r="7"/></g><g id="f10"><circle cx="2218" cy="1567" r="7"/></g>
<g id="f11"><circle cx="2235" cy="1578" r="7"/></g><g id="f12"><circle cx="2253" cy="1590" r="7"/></g><g id="f13"><circle cx="2252" cy="1602" r="7"/></g><g id="f14"><circle cx="2253" cy="1607" r="7"/></g><g id="f15"><circle cx="2164" cy="1624" r="7"/></g><g id="f16"><circle cx="2187" cy="1665" r="7"/></g><g id="f17"><circle cx="2237" cy="1735" r="7"/></g>
<g id="g01"><circle cx="1592" cy="1769" r="7"/></g><g id="g02"><circle cx="1543" cy="1782" r="7"/></g><g id="g03"><circle cx="1526" cy="1801" r="7"/></g><g id="g04"><circle cx="1526" cy="1809" r="7"/></g><g id="g05"><circle cx="1535" cy="1814" r="7"/></g><g id="g06"><circle cx="1526" cy="1820" r="7"/></g><g id="g07"><circle cx="1315" cy="1862" r="7"/></g><g id="g08"><circle cx="1314" cy="1874" r="7"/></g><g id="g09"><circle cx="1319" cy="1881" r="7"/></g><g id="g10"><circle cx="1322" cy="1887" r="7"/></g>
<g id="g11"><circle cx="1428" cy="1884" r="7"/></g><g id="g12"><circle cx="1355" cy="1916" r="7"/></g><g id="g13"><circle cx="1425" cy="1920" r="7"/></g><g id="g14"><circle cx="1384" cy="1959" r="7"/></g><g id="g15"><circle cx="1392" cy="1969" r="7"/></g><g id="g16"><circle cx="1401" cy="2037" r="7"/></g><g id="g17"><circle cx="1410" cy="2030" r="7"/></g><g id="g18"><circle cx="1413" cy="2038" r="7"/></g><g id="g19"><circle cx="906" cy="2031" r="7"/></g><g id="g20"><circle cx="913" cy="2042" r="7"/></g>
<g id="g21"><circle cx="756" cy="2206" r="7"/></g><g id="g22"><circle cx="769" cy="2204" r="7"/></g><g id="g23"><circle cx="776" cy="2206" r="7"/></g><g id="g24"><circle cx="763" cy="2217" r="7"/></g><g id="g25"><circle cx="769" cy="2228" r="7"/></g><g id="g26"><circle cx="781" cy="2226" r="7"/></g><g id="g27"><circle cx="772" cy="2223" r="7"/></g><g id="g28"><circle cx="789" cy="2271" r="7"/></g>
<g id="k01"><circle cx="972" cy="933" r="7"/></g><g id="k02"><circle cx="991" cy="926" r="7"/></g><g id="k03"><circle cx="1035" cy="933" r="7"/></g><g id="k04"><circle cx="1056" cy="957" r="7"/></g><g id="k05"><circle cx="1037" cy="978" r="7"/></g><g id="k06"><circle cx="1024" cy="997" r="7"/></g><g id="k07"><circle cx="906" cy="1010" r="7"/></g><g id="k08"><circle cx="898" cy="1023" r="7"/></g><g id="k09"><circle cx="904" cy="1049" r="7"/></g><g id="k10"><circle cx="879" cy="1064" r="7"/></g>
<g id="k11"><circle cx="891" cy="1065" r="7"/></g><g id="k12"><circle cx="938" cy="1062" r="7"/></g><g id="k13"><circle cx="950" cy="1049" r="7"/></g><g id="k14"><circle cx="942" cy="1086" r="7"/></g><g id="k15"><circle cx="975" cy="1033" r="7"/></g><g id="k16"><circle cx="981" cy="1064" r="7"/></g><g id="k17"><circle cx="1067" cy="1073" r="7"/></g><g id="k18"><circle cx="1094" cy="1066" r="7"/></g><g id="k19"><circle cx="1051" cy="1126" r="7"/></g><g id="k20"><circle cx="1062" cy="1123" r="7"/></g>
<g id="k21"><circle cx="1075" cy="1125" r="7"/></g><g id="k22"><circle cx="1062" cy="1130" r="7"/></g><g id="k23"><circle cx="955" cy="1142" r="7"/></g><g id="k24"><circle cx="862" cy="1157" r="7"/></g><g id="k25"><circle cx="1052" cy="1157" r="7"/></g><g id="k26"><circle cx="1061" cy="1206" r="7"/></g><g id="k27"><circle cx="981" cy="1277" r="7"/></g><g id="k28"><circle cx="870" cy="1315" r="7"/></g><g id="k29"><circle cx="880" cy="1324" r="7"/></g><g id="k30"><circle cx="901" cy="1289" r="7"/></g>
<g id="k31"><circle cx="898" cy="1334" r="7"/></g><g id="k32"><circle cx="907" cy="1338" r="7"/></g><g id="k33"><circle cx="879" cy="1362" r="7"/></g>
<g id="p01"><circle cx="1439" cy="993" r="7"/></g><g id="p02"><circle cx="1450" cy="975" r="7"/></g><g id="p03"><circle cx="1405" cy="1053" r="7"/></g><g id="p04"><circle cx="1415" cy="1062" r="7"/></g><g id="p05"><circle cx="1013" cy="1360" r="7"/></g><g id="p06"><circle cx="951" cy="1379" r="7"/></g><g id="p07"><circle cx="954" cy="1389" r="7"/></g><g id="p08"><circle cx="865" cy="1776" r="7"/></g><g id="p09"><circle cx="867" cy="1788" r="7"/></g><g id="p10"><circle cx="854" cy="1812" r="7"/></g><g id="p11"><circle cx="887" cy="1854" r="7"/></g>
<g id="q01"><circle cx="1650" cy="2389" r="7"/></g><g id="q02"><circle cx="1646" cy="2398" r="7"/></g><g id="q03"><circle cx="1643" cy="2404" r="7"/></g><g id="q04"><circle cx="1632" cy="2404" r="7"/></g><g id="q05"><circle cx="1612" cy="2358" r="7"/></g><g id="q06"><circle cx="1435" cy="2353" r="7"/></g><g id="q07"><circle cx="1389" cy="2367" r="7"/></g><g id="q08"><circle cx="1356" cy="2386" r="7"/></g><g id="q09"><circle cx="1527" cy="2381" r="7"/></g><g id="q10"><circle cx="1545" cy="2375" r="7"/></g>
<g id="q11"><circle cx="1446" cy="2409" r="7"/></g><g id="q12"><circle cx="1466" cy="2403" r="7"/></g><g id="q13"><circle cx="1518" cy="2426" r="7"/></g><g id="q14"><circle cx="1572" cy="2426" r="7"/></g><g id="q15"><circle cx="1352" cy="2461" r="7"/></g><g id="q16"><circle cx="1440" cy="2453" r="7"/></g><g id="q17"><circle cx="1444" cy="2470" r="7"/></g><g id="q18"><circle cx="1362" cy="2507" r="7"/></g><g id="q19"><circle cx="1505" cy="2478" r="7"/></g><g id="q20"><circle cx="1568" cy="2480" r="7"/></g>
<g id="q21"><circle cx="1486" cy="2519" r="7"/></g><g id="q22"><circle cx="1498" cy="2545" r="7"/></g><g id="q23"><circle cx="1425" cy="2559" r="7"/></g><g id="q24"><circle cx="1476" cy="2594" r="7"/></g><g id="q25"><circle cx="1511" cy="2639" r="7"/></g><g id="q26"><circle cx="1575" cy="2570" r="7"/></g><g id="q27"><circle cx="1566" cy="2583" r="7"/></g><g id="q28"><circle cx="1587" cy="2635" r="7"/></g><g id="q29"><circle cx="1585" cy="2454" r="7"/></g><g id="q30"><circle cx="1591" cy="2455" r="7"/></g>
<g id="q31"><circle cx="1597" cy="2453" r="7"/></g><g id="q32"><circle cx="1622" cy="2443" r="7"/></g><g id="q33"><circle cx="1634" cy="2426" r="7"/></g><g id="q34"><circle cx="1641" cy="2449" r="7"/></g><g id="q35"><circle cx="1655" cy="2431" r="7"/></g><g id="q36"><circle cx="1662" cy="2434" r="7"/></g><g id="q37"><circle cx="1657" cy="2491" r="7"/></g><g id="q38"><circle cx="1673" cy="2487" r="7"/></g><g id="q39"><circle cx="1661" cy="2536" r="7"/></g><g id="q40"><circle cx="1635" cy="2589" r="7"/></g>
<g id="q41"><circle cx="1653" cy="2599" r="7"/></g><g id="q42"><circle cx="1687" cy="2606" r="7"/></g><g id="q43"><circle cx="1686" cy="2671" r="7"/></g><g id="q44"><circle cx="1681" cy="2694" r="7"/></g><g id="q45"><circle cx="1701" cy="2488" r="7"/></g><g id="q46"><circle cx="1716" cy="2454" r="7"/></g><g id="q47"><circle cx="1723" cy="2476" r="7"/></g><g id="q48"><circle cx="1721" cy="2594" r="7"/></g><g id="q49"><circle cx="1752" cy="2571" r="7"/></g><g id="q50"><circle cx="1747" cy="2584" r="7"/></g>
<g id="q51"><circle cx="1760" cy="2536" r="7"/></g><g id="q52"><circle cx="1756" cy="2546" r="7"/></g><g id="q53"><circle cx="1753" cy="2693" r="7"/></g><g id="q54"><circle cx="1789" cy="2677" r="7"/></g><g id="q55"><circle cx="1815" cy="2659" r="7"/></g><g id="q56"><circle cx="1814" cy="2595" r="7"/></g><g id="q57"><circle cx="1794" cy="2557" r="7"/></g><g id="q58"><circle cx="1811" cy="2543" r="7"/></g><g id="q59"><circle cx="1839" cy="2552" r="7"/></g>
<g id="c01"><circle cx="2788" cy="2398" r="7"/></g><g id="c02"><circle cx="2748" cy="2412" r="7"/></g><g id="c03"><circle cx="2817" cy="2407" r="7"/></g><g id="c04"><circle cx="2821" cy="2412" r="7"/></g><g id="c05"><circle cx="2870" cy="2409" r="7"/></g><g id="c06"><circle cx="2894" cy="2424" r="7"/></g><g id="c07"><circle cx="2912" cy="2466" r="7"/></g><g id="c08"><circle cx="2913" cy="2498" r="7"/></g><g id="c09"><circle cx="2907" cy="2515" r="7"/></g><g id="c10"><circle cx="2812" cy="2498" r="7"/></g>
<g id="c11"><circle cx="2819" cy="2518" r="7"/></g><g id="c12"><circle cx="2743" cy="2514" r="7"/></g><g id="c13"><circle cx="2717" cy="2483" r="7"/></g><g id="c14"><circle cx="2708" cy="2451" r="7"/></g><g id="c15"><circle cx="2653" cy="2447" r="7"/></g><g id="c16"><circle cx="2634" cy="2447" r="7"/></g><g id="c17"><circle cx="2622" cy="2455" r="7"/></g><g id="c18"><circle cx="2558" cy="2500" r="7"/></g><g id="c19"><circle cx="2618" cy="2539" r="7"/></g><g id="c20"><circle cx="2516" cy="2541" r="7"/></g>
<g id="c21"><circle cx="2476" cy="2576" r="7"/></g><g id="c22"><circle cx="2489" cy="2582" r="7"/></g><g id="c23"><circle cx="2470" cy="2593" r="7"/></g><g id="c24"><circle cx="2461" cy="2614" r="7"/></g><g id="c25"><circle cx="2577" cy="2613" r="7"/></g><g id="c26"><circle cx="2460" cy="2667" r="7"/></g><g id="c27"><circle cx="2463" cy="2676" r="7"/></g><g id="c28"><circle cx="2470" cy="2692" r="7"/></g><g id="c29"><circle cx="2488" cy="2703" r="7"/></g><g id="c30"><circle cx="2532" cy="2729" r="7"/></g>
<g id="c31"><circle cx="2568" cy="2728" r="7"/></g><g id="c32"><circle cx="2596" cy="2733" r="7"/></g><g id="c33"><circle cx="2669" cy="2623" r="7"/></g><g id="c34"><circle cx="2685" cy="2605" r="7"/></g><g id="c35"><circle cx="2685" cy="2617" r="7"/></g><g id="c36"><circle cx="2714" cy="2693" r="7"/></g><g id="c37"><circle cx="2731" cy="2690" r="7"/></g><g id="c38"><circle cx="2726" cy="2633" r="7"/></g><g id="c39"><circle cx="2790" cy="2647" r="7"/></g><g id="c40"><circle cx="2778" cy="2559" r="7"/></g>
<g id="c41"><circle cx="2810" cy="2560" r="7"/></g><g id="c42"><circle cx="2806" cy="2569" r="7"/></g><g id="c43"><circle cx="2839" cy="2562" r="7"/></g><g id="c44"><circle cx="2837" cy="2570" r="7"/></g><g id="c45"><circle cx="2833" cy="2573" r="7"/></g><g id="c46"><circle cx="2820" cy="2576" r="7"/></g><g id="c47"><circle cx="2781" cy="2583" r="7"/></g><g id="c48"><circle cx="2792" cy="2583" r="7"/></g><g id="c49"><circle cx="2787" cy="2593" r="7"/></g>
<g id="s01"><circle cx="3044" cy="1434" r="7"/></g><g id="s02"><circle cx="3017" cy="1436" r="7"/></g><g id="s03"><circle cx="2990" cy="1455" r="7"/></g><g id="s04"><circle cx="2995" cy="1459" r="7"/></g><g id="s05"><circle cx="2949" cy="1477" r="7"/></g><g id="s06"><circle cx="2927" cy="1491" r="7"/></g><g id="s07"><circle cx="2933" cy="1510" r="7"/></g><g id="s08"><circle cx="3080" cy="1470" r="7"/></g><g id="s09"><circle cx="3127" cy="1451" r="7"/></g><g id="s10"><circle cx="3144" cy="1461" r="7"/></g>
<g id="s11"><circle cx="3151" cy="1464" r="7"/></g><g id="s12"><circle cx="3084" cy="1561" r="7"/></g><g id="s13"><circle cx="3192" cy="1515" r="7"/></g><g id="s14"><circle cx="3200" cy="1526" r="7"/></g><g id="s15"><circle cx="3207" cy="1581" r="7"/></g><g id="s16"><circle cx="3221" cy="1594" r="7"/></g><g id="s17"><circle cx="3228" cy="1644" r="7"/></g><g id="s18"><circle cx="3137" cy="1669" r="7"/></g><g id="s19"><circle cx="3139" cy="1703" r="7"/></g><g id="s20"><circle cx="3220" cy="1722" r="7"/></g>
<g id="s21"><circle cx="3122" cy="1722" r="7"/></g><g id="s22"><circle cx="3074" cy="1717" r="7"/></g><g id="s23"><circle cx="3077" cy="1781" r="7"/></g><g id="s24"><circle cx="3155" cy="1829" r="7"/></g><g id="s25"><circle cx="3142" cy="1845" r="7"/></g><g id="s26"><circle cx="3055" cy="1896" r="7"/></g><g id="s27"><circle cx="3063" cy="1896" r="7"/></g><g id="s28"><circle cx="2978" cy="1896" r="7"/></g><g id="s29"><circle cx="2936" cy="1875" r="7"/></g><g id="s30"><circle cx="2922" cy="1868" r="7"/></g>
<g id="s31"><circle cx="2927" cy="1825" r="7"/></g><g id="s32"><circle cx="2877" cy="1807" r="7"/></g><g id="s33"><circle cx="2902" cy="1779" r="7"/></g><g id="s34"><circle cx="2875" cy="1768" r="7"/></g><g id="s35"><circle cx="3026" cy="1720" r="7"/></g><g id="s36"><circle cx="2861" cy="1722" r="7"/></g><g id="s37"><circle cx="2869" cy="1704" r="7"/></g><g id="s38"><circle cx="2884" cy="1694" r="7"/></g><g id="s39"><circle cx="2857" cy="1669" r="7"/></g><g id="s40"><circle cx="2865" cy="1609" r="7"/></g>
<g id="s41"><circle cx="2876" cy="1563" r="7"/></g><g id="s42"><circle cx="2897" cy="1578" r="7"/></g><g id="s43"><circle cx="3459" cy="1536" r="7"/></g><g id="s44"><circle cx="3479" cy="1539" r="7"/></g><g id="s45"><circle cx="3481" cy="1544" r="7"/></g><g id="s46"><circle cx="3022" cy="2231" r="7"/></g><g id="s47"><circle cx="3034" cy="2231" r="7"/></g>
</g>
</svg>
